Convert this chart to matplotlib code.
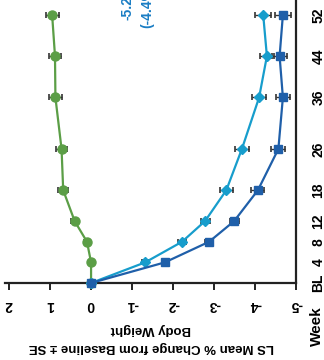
import matplotlib
matplotlib.use("Agg")
import matplotlib.pyplot as plt

# Weeks on the original x axis (the chart is shown rotated 90 deg counter-clockwise)
weeks = [0, 4, 8, 12, 18, 26, 36, 44, 52]
week_labels = ["BL", "4", "8", "12", "18", "26", "36", "44", "52"]

# LS mean % change from baseline in body weight
placebo = [0.0, 0.0, 0.1, 0.4, 0.68, 0.72, 0.87, 0.88, 0.95]
dose_low = [0.0, -1.32, -2.22, -2.78, -3.3, -3.68, -4.1, -4.29, -4.2]
dose_high = [0.0, -1.8, -2.88, -3.49, -4.07, -4.57, -4.68, -4.6, -4.68]

se_placebo = [0.0, 0.05, 0.07, 0.09, 0.12, 0.14, 0.15, 0.15, 0.16]
se_low = [0.0, 0.07, 0.09, 0.11, 0.16, 0.17, 0.18, 0.18, 0.19]
se_high = [0.0, 0.07, 0.09, 0.11, 0.16, 0.17, 0.18, 0.18, 0.19]

value_ticks = [2, 1, 0, -1, -2, -3, -4, -5]
notes = ["-5.2%", "(-4.4%)"]

plt.rcParams["font.family"] = ["Liberation Sans", "DejaVu Sans"]
plt.rcParams["font.weight"] = "bold"

fig = plt.figure(figsize=(3.24, 3.6), dpi=100)
ax = fig.add_axes([5 / 324, 77 / 360, 291 / 324, 299 / 360])

series = [
    (placebo, se_placebo, "#5b9e46", "o", 6.5),
    (dose_low, se_low, "#179dcc", "D", 5.5),
    (dose_high, se_high, "#1f5fa9", "s", 5.5),
]
for vals, se, color, marker, ms in series:
    ax.errorbar(vals, weeks, xerr=se, fmt="none", ecolor="#333333",
                elinewidth=1.0, capsize=2.2, capthick=1.2, zorder=2)
    ax.plot(vals, weeks, color=color, lw=1.6, marker=marker, ms=ms,
            markeredgecolor=color, zorder=3, clip_on=False)

ax.set_xlim(2.1, -5)
ax.set_ylim(0, 58)

for side in ["top", "left"]:
    ax.spines[side].set_visible(False)
for side in ["bottom", "right"]:
    ax.spines[side].set_linewidth(1.6)
    ax.spines[side].set_color("#222222")

ax.set_xticks(value_ticks)
ax.set_xticklabels([str(v) for v in value_ticks], rotation=180,
                   fontsize=10, fontweight="bold")
ax.tick_params(axis="x", direction="out", length=5, width=1.4, pad=6,
               color="#222222")

ax.yaxis.tick_right()
ax.set_yticks(weeks)
ax.set_yticklabels(week_labels, rotation=90, va="center",
                   fontsize=10, fontweight="bold")
ax.tick_params(axis="y", direction="out", length=0, pad=11)

# annotations, cut off at the top edge as in the source
ax.text(-0.9, 51.0, notes[0], rotation=90, ha="center", va="bottom",
        color="#1a7dc4", fontsize=10, fontweight="bold")
ax.text(-1.37, 49.5, notes[1], rotation=90, ha="center", va="bottom",
        color="#1a7dc4", fontsize=10, fontweight="bold")

fig.text(151 / 324, 1 - 329 / 360, "Body Weight", rotation=180,
         ha="center", va="center", fontsize=9.5, fontweight="bold")
fig.text(151 / 324, 1 - 347 / 360, "LS Mean % Change from Baseline \u00b1 SE",
         rotation=180, ha="center", va="center", fontsize=9.5,
         fontweight="bold")
fig.text(317 / 324, 1 - 326 / 360, "Week", rotation=90, ha="center",
         va="center", fontsize=11, fontweight="bold")

fig.savefig("out.png", dpi=100)
